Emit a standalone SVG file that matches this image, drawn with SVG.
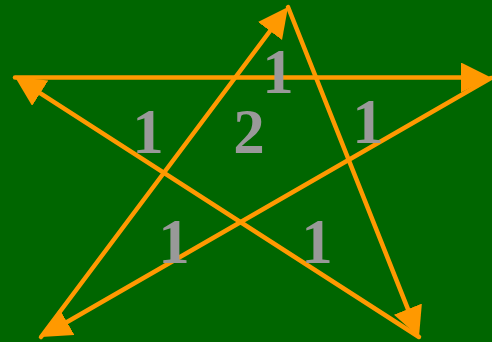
<svg xmlns="http://www.w3.org/2000/svg" width="492" height="342" viewBox="0 0 492 342">
<style>
.edge{stroke:#FF9900;stroke-width:4.5;fill:none;stroke-linecap:round;marker-end:url(#ah)}
.lbl{font-family:"Liberation Serif","Times New Roman",serif;font-weight:bold;font-size:63px;fill:#999999;text-anchor:middle}
</style>
<defs>
<marker id="ah" markerUnits="userSpaceOnUse" markerWidth="32" markerHeight="32" refX="20" refY="15" orient="auto">
<path d="M0,0 L30,15 L0,30 z" fill="#FF9900"/>
</marker>
</defs>
<rect width="492" height="342" fill="#006600"/>
<g id="connectors">
<line class="edge" x1="41" y1="337" x2="282" y2="15"/>
<line class="edge" x1="288" y1="7" x2="415.3" y2="327.7"/>
<line class="edge" x1="419" y1="337" x2="23.4" y2="82.4"/>
<line class="edge" x1="15" y1="77.5" x2="481" y2="77.5"/>
<line class="edge" x1="491" y1="78" x2="49.7" y2="332"/>
</g>
<g id="label-top"><text class="lbl" x="278" y="93">1</text></g>
<g id="label-left"><text class="lbl" x="148" y="153">1</text></g>
<g id="label-center"><text class="lbl" x="249" y="153">2</text></g>
<g id="label-right"><text class="lbl" x="368" y="143">1</text></g>
<g id="label-lowerleft"><text class="lbl" x="174" y="263">1</text></g>
<g id="label-lowerright"><text class="lbl" x="317" y="263">1</text></g>
</svg>
